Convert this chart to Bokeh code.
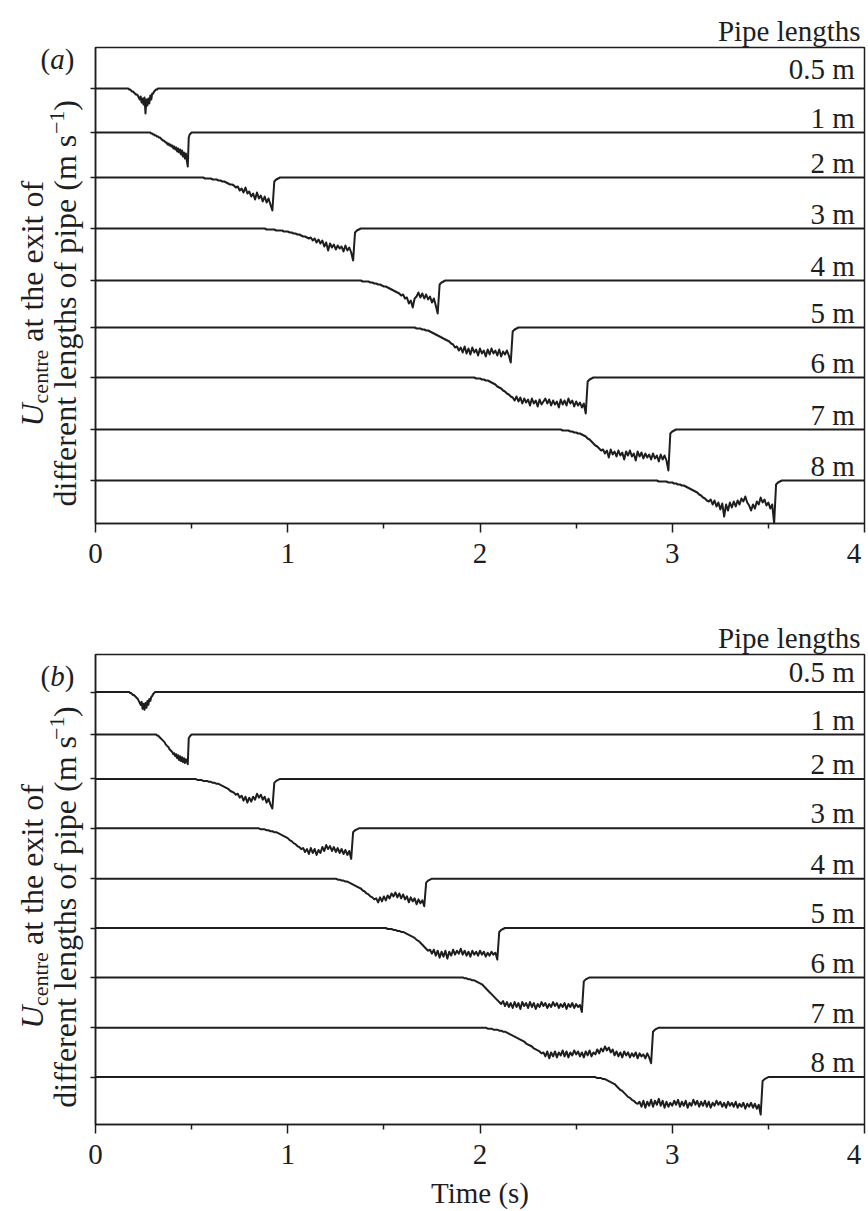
import math
from bokeh.plotting import figure
from bokeh.models import Range1d, FixedTicker, CustomJSTickFormatter, LinearAxis
from bokeh.layouts import column, row
from bokeh.core.properties import value
from bokeh.embed import file_html
from bokeh.resources import INLINE

# ---------------------------------------------------------------- data
pipe_lengths = ["0.5 m", "1 m", "2 m", "3 m", "4 m", "5 m", "6 m", "7 m", "8 m"]
time_ticks = [0, 1, 2, 3, 4]
time_minor = [0.5, 1.5, 2.5, 3.5]

# resting centreline velocity of each stacked trace (arbitrary offset units)
baseline_a = [4.35, 3.91, 3.46, 2.95, 2.43, 1.96, 1.46, 0.94, 0.43]
baseline_b = [4.38, 3.95, 3.50, 3.00, 2.49, 1.99, 1.49, 0.98, 0.48]

# each record: (time of first sample [s], sample step [s], velocity drop in hundredths)
# outside the sampled window a trace sits on its baseline
a_05 = (0.17, 0.005, [0, 1, 1, 2, 3, 3, 4, 5, 6, 6, 7, 9, 11, 8, 14, 10, 16, 9, 25, 11,
                      17, 10, 15, 7, 11, 5, 5, 3, 2, 1, 1, 0, 0])
a_1 = (0.28, 0.005, [0, 0, 1, 1, 2, 2, 3, 3, 4, 4, 5, 5, 6, 7, 8, 8, 9, 10, 10, 12,
                     11, 13, 12, 14, 13, 16, 14, 17, 15, 19, 16, 20, 17, 22, 18, 24, 20, 26, 21, 28,
                     34, 5, 2, 1, 0])
a_2 = (0.54, 0.01, [0, 0, 0, 1, 1, 1, 1, 2, 2, 2, 3, 3, 4, 4, 5, 6, 7, 7, 8, 10,
                    9, 13, 11, 15, 10, 16, 14, 19, 16, 22, 15, 21, 18, 24, 19, 25, 21, 27, 33, 4,
                    2, 1, 0])
a_3 = (0.86, 0.01, [0, 0, 0, 1, 1, 1, 1, 1, 2, 2, 2, 2, 3, 3, 3, 4, 4, 5, 5, 6,
                    6, 7, 8, 8, 9, 10, 9, 12, 10, 14, 11, 15, 12, 18, 14, 22, 15, 19, 16, 21,
                    17, 20, 18, 23, 17, 22, 19, 24, 32, 4, 2, 1, 0])
a_4 = (1.36, 0.01, [0, 0, 0, 1, 1, 1, 1, 2, 2, 3, 3, 4, 4, 5, 6, 6, 7, 8, 9, 10,
                    11, 12, 13, 15, 14, 18, 17, 23, 20, 27, 18, 16, 12, 17, 13, 18, 14, 19, 16, 22,
                    18, 25, 33, 4, 2, 1, 0])
a_5 = (1.64, 0.01, [0, 0, 0, 1, 1, 1, 2, 2, 3, 3, 4, 5, 6, 7, 8, 9, 10, 11, 12, 13,
                    14, 16, 17, 20, 19, 23, 20, 25, 19, 26, 21, 27, 20, 25, 22, 28, 21, 26, 23, 29,
                    22, 27, 21, 26, 23, 28, 22, 29, 24, 27, 23, 28, 35, 4, 2, 1, 0])
a_6 = (1.95, 0.01, [0, 0, 0, 1, 1, 1, 2, 2, 3, 3, 4, 5, 6, 7, 9, 10, 11, 13, 14, 16,
                    17, 19, 20, 23, 19, 24, 20, 26, 21, 25, 22, 28, 21, 26, 23, 29, 22, 27, 24, 21,
                    26, 22, 28, 23, 27, 24, 30, 22, 27, 23, 28, 21, 26, 23, 29, 24, 28, 25, 30, 26,
                    36, 4, 2, 1, 0])
a_7 = (2.40, 0.01, [0, 0, 0, 1, 1, 1, 1, 2, 2, 3, 3, 4, 4, 5, 6, 7, 9, 10, 12, 14,
                    16, 17, 19, 21, 20, 24, 21, 28, 20, 25, 22, 27, 21, 26, 23, 30, 22, 26, 21, 27,
                    24, 31, 22, 27, 23, 29, 24, 28, 25, 30, 24, 29, 26, 32, 25, 30, 26, 31, 41, 4,
                    2, 1, 0])
a_8 = (2.89, 0.01, [0, 0, 0, 0, 1, 1, 1, 1, 1, 2, 2, 2, 3, 3, 4, 4, 5, 5, 6, 7,
                    8, 9, 10, 11, 12, 14, 15, 17, 18, 20, 21, 19, 24, 20, 26, 22, 29, 23, 36, 24,
                    30, 22, 27, 21, 26, 20, 24, 18, 21, 16, 22, 25, 30, 24, 28, 21, 24, 17, 22, 19,
                    25, 22, 28, 24, 43, 4, 2, 1, 0])

b_05 = (0.17, 0.005, [0, 0, 1, 1, 2, 3, 3, 4, 5, 6, 7, 9, 11, 13, 10, 17, 12, 18, 11, 16,
                      9, 13, 7, 9, 5, 4, 2, 1, 0])
b_1 = (0.31, 0.005, [0, 0, 1, 1, 2, 3, 4, 5, 6, 7, 8, 10, 11, 12, 13, 15, 16, 17, 18, 20,
                     19, 22, 20, 24, 21, 26, 22, 27, 23, 28, 24, 29, 25, 27, 30, 4, 2, 1, 0])
b_2 = (0.50, 0.01, [0, 0, 0, 1, 1, 1, 2, 2, 2, 3, 3, 4, 4, 5, 5, 6, 7, 8, 9, 10,
                    12, 13, 14, 16, 15, 19, 17, 22, 18, 24, 19, 23, 18, 21, 15, 19, 16, 21, 18, 24,
                    20, 26, 30, 4, 2, 1, 0])
b_3 = (0.83, 0.01, [0, 0, 0, 1, 1, 1, 2, 2, 3, 3, 4, 4, 5, 6, 7, 8, 9, 10, 12, 13,
                    15, 16, 18, 19, 21, 20, 24, 21, 26, 20, 25, 21, 27, 22, 25, 19, 23, 17, 21, 18,
                    23, 19, 24, 20, 25, 21, 26, 22, 27, 23, 31, 4, 2, 1, 0])
b_4 = (1.23, 0.01, [0, 0, 0, 1, 1, 2, 2, 3, 3, 4, 5, 6, 7, 8, 9, 10, 12, 13, 15, 16,
                    18, 19, 21, 20, 24, 19, 23, 18, 22, 17, 20, 15, 18, 14, 19, 15, 20, 16, 21, 18,
                    24, 19, 23, 20, 26, 21, 25, 22, 28, 4, 2, 1, 0])
b_5 = (1.49, 0.01, [0, 0, 0, 1, 1, 1, 2, 2, 3, 3, 4, 4, 5, 6, 7, 8, 9, 10, 12, 13,
                    15, 17, 19, 21, 23, 22, 26, 22, 28, 23, 30, 24, 29, 23, 31, 24, 28, 22, 27, 23,
                    26, 21, 27, 23, 28, 24, 29, 23, 27, 24, 28, 23, 27, 24, 29, 25, 28, 24, 27, 25,
                    32, 4, 2, 1, 0])
b_6 = (1.89, 0.01, [0, 0, 0, 1, 1, 2, 2, 3, 3, 4, 5, 6, 7, 9, 11, 13, 15, 17, 19, 21,
                    23, 25, 27, 24, 29, 25, 30, 26, 31, 25, 30, 26, 32, 25, 29, 26, 31, 25, 30, 26,
                    32, 27, 30, 25, 29, 26, 31, 27, 30, 25, 29, 26, 31, 27, 30, 26, 32, 27, 30, 26,
                    31, 27, 30, 28, 35, 4, 2, 1, 0])
b_7 = (2.01, 0.01, [0, 0, 0, 1, 1, 1, 2, 2, 2, 3, 3, 4, 4, 5, 6, 7, 8, 9, 10, 11,
                    12, 13, 14, 16, 17, 18, 19, 21, 22, 23, 24, 26, 25, 29, 24, 31, 25, 29, 24, 30,
                    25, 28, 23, 29, 24, 30, 25, 28, 23, 27, 24, 29, 25, 30, 24, 28, 23, 29, 25, 27,
                    22, 26, 21, 24, 19, 23, 20, 25, 22, 28, 24, 29, 25, 30, 24, 28, 25, 30, 26, 29,
                    25, 31, 26, 29, 27, 31, 26, 30, 36, 4, 2, 1, 0])
b_8 = (2.58, 0.01, [0, 0, 0, 1, 1, 1, 2, 2, 3, 4, 5, 6, 7, 9, 11, 13, 14, 16, 18, 20,
                    21, 23, 24, 26, 27, 25, 30, 24, 31, 25, 29, 23, 30, 24, 28, 22, 29, 24, 31, 25,
                    30, 26, 29, 24, 28, 23, 30, 25, 29, 24, 31, 26, 29, 23, 28, 24, 30, 25, 29, 24,
                    30, 25, 31, 26, 29, 24, 28, 25, 30, 26, 31, 25, 29, 26, 30, 25, 31, 27, 30, 26,
                    32, 27, 30, 26, 31, 27, 32, 28, 38, 4, 2, 1, 0])

traces_a = [a_05, a_1, a_2, a_3, a_4, a_5, a_6, a_7, a_8]
traces_b = [b_05, b_1, b_2, b_3, b_4, b_5, b_6, b_7, b_8]

# ---------------------------------------------------------------- style
INK = "#1e1e1e"
SERIF = "Liberation Serif"
T_MAX, Y_MAX = 4.0, 4.76
FRAME_H = 476        # plot-box height in px, shared by the side strip (row aligns frames)
SIDE_W = 87          # strip holding the rotated quantity label
MAIN_W = 868 - SIDE_W


def trace_xy(record, base):
    start, step, drop = record
    t = [0.0] + [start + i * step for i in range(len(drop))] + [T_MAX]
    d = [0] + drop + [0]
    return t, [base - v / 100.0 for v in d]


def make_side(height, tag, tag_dy):
    """Left strip: panel tag and the two-line rotated axis quantity.
    Its frame lines up with the plot box, so y runs in px up from the box bottom."""
    s = figure(width=SIDE_W, height=height, x_range=Range1d(0, SIDE_W), y_range=Range1d(0, FRAME_H),
               x_axis_type=None, y_axis_type=None, title=None,
               output_backend="svg", toolbar_location=None, min_border=0)
    s.grid.visible = False
    s.outline_line_color = None

    def put(text, x, dy, size, angle=0.0, style="normal"):
        s.text(x=[x], y=[FRAME_H - dy], text=[text], angle=angle,
               text_font=value(SERIF), text_font_size=value(f"{size}px"),
               text_font_style=value(style), text_color=INK,
               text_align="left", text_baseline="middle")

    put("(", 40, tag_dy, 29)
    put(tag, 49.7, tag_dy, 29, style="italic")
    put(")", 64.2, tag_dy, 29)

    # rotated pieces, each centred on its own line (x = middle of the em box)
    up = math.pi / 2
    put("U", 31, 379, 32, angle=up, style="italic")
    put("centre", 39.5, 355.9, 22, angle=up)
    put("at the exit of", 31, 294.2, 32, angle=up)
    put("different lengths of pipe (m s", 64, 459, 32, angle=up)
    put("\u22121", 56, 86.6, 22, angle=up)
    put(")", 64, 63.2, 32, angle=up)
    return s


def make_main(traces, baselines, height, border_top, border_bottom, xlabel=None):
    p = figure(width=MAIN_W, height=height, x_range=Range1d(0, T_MAX), y_range=Range1d(0, Y_MAX),
               output_backend="svg", toolbar_location=None,
               min_border_left=8, min_border_right=4,
               min_border_top=border_top, min_border_bottom=border_bottom)
    p.grid.visible = False
    p.background_fill_color = "white"
    p.border_fill_color = "white"
    p.outline_line_color = INK
    p.outline_line_width = 1.5

    # the time axis and the offset axis made by figure()
    xa = p.below[0]
    ya = p.left[0]

    # an empty, tickless axis above the box lifts the header text off the box edge
    gap = LinearAxis(ticker=FixedTicker(ticks=[], minor_ticks=[]),
                     axis_line_color=None, major_tick_line_color=None, minor_tick_line_color=None,
                     major_tick_in=0, major_tick_out=10, minor_tick_in=0, minor_tick_out=0,
                     major_label_standoff=0, major_label_text_color=None)
    p.add_layout(gap, "above")

    p.title.text = "Pipe lengths"
    p.title.align = "right"
    p.title.vertical_align = "middle"
    p.title.text_font = SERIF
    p.title.text_font_size = "29px"
    p.title.text_font_style = "normal"
    p.title.text_color = INK
    p.title.offset = 4
    p.title.standoff = 0

    xa.ticker = FixedTicker(ticks=time_ticks, minor_ticks=time_minor)
    xa.major_label_overrides = {4: "4\u00a0"}
    xa.axis_line_color = INK
    xa.axis_line_width = 1.5
    xa.major_tick_line_color = INK
    xa.major_tick_line_width = 1.5
    xa.minor_tick_line_color = INK
    xa.minor_tick_line_width = 1.5
    xa.major_tick_in, xa.major_tick_out = 0, 9
    xa.minor_tick_in, xa.minor_tick_out = 0, 5
    xa.major_label_text_font = SERIF
    xa.major_label_text_font_size = "29px"
    xa.major_label_text_color = INK
    xa.major_label_standoff = 4
    if xlabel:
        xa.axis_label = xlabel
        xa.axis_label_text_font = SERIF
        xa.axis_label_text_font_size = "29px"
        xa.axis_label_text_font_style = "normal"
        xa.axis_label_text_color = INK
        xa.axis_label_standoff = 4

    ya.ticker = FixedTicker(ticks=baselines, minor_ticks=[])
    ya.formatter = CustomJSTickFormatter(code="return ''")
    ya.axis_line_color = INK
    ya.axis_line_width = 1.5
    ya.major_tick_line_color = INK
    ya.major_tick_line_width = 1.5
    ya.major_tick_in, ya.major_tick_out = 0, 5
    ya.minor_tick_line_color = None
    ya.major_label_text_color = None
    ya.major_label_standoff = 0

    for rec, base in zip(traces, baselines):
        t, u = trace_xy(rec, base)
        p.line(t, u, line_color=INK, line_width=2.0, line_join="round")

    # pipe-length tags above each trace
    lab_y = [b + (0.20 if i == 0 else 0.15) for i, b in enumerate(baselines)]
    p.text(x=[3.95] * len(pipe_lengths), y=lab_y, text=pipe_lengths,
           text_font=value(SERIF), text_font_size="29px", text_color=INK,
           text_align="right", text_baseline="middle")
    return p


panel_a = row(make_side(605, "a", 11),
              make_main(traces_a, baseline_a, 605, 47, 82), spacing=0)
panel_b = row(make_side(606, "b", 22),
              make_main(traces_b, baseline_b, 606, 49, 81, xlabel="Time (s)"), spacing=0)

open("out.html", "w").write(file_html(column(panel_a, panel_b, spacing=0), INLINE))
